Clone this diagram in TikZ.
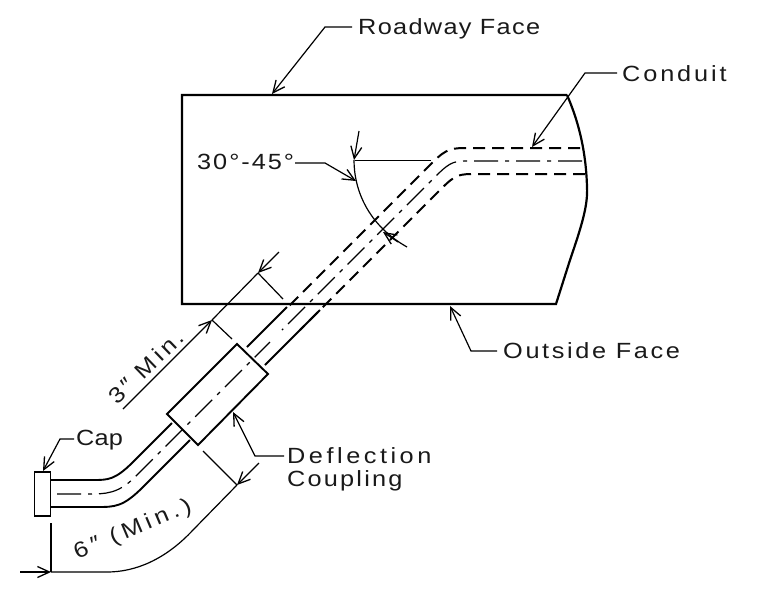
\documentclass[tikz,border=0pt]{standalone}
\usepackage{fontspec}
\usetikzlibrary{arrows.meta}
\setmainfont{Liberation Sans}
\newcommand{\lsp}[1]{\addfontfeature{FakeStretch=1.15,LetterSpace=#1}}
\tikzset{
  x=1pt,y=-1pt,
  >={Straight Barb[length=12pt,width=11pt,line width=1.3pt,sep=0pt]},
  thick line/.style={line width=2.2pt,line cap=butt},
  tube/.style={line width=1.9pt},
  dashtube/.style={line width=2pt,dash pattern=on 12pt off 7pt},
  centerl/.style={line width=1.2pt,dash pattern=on 24pt off 7pt on 4pt off 7pt},
  thin line/.style={line width=1.2pt},
  lead/.style={thin line,->},
  lbl/.style={inner sep=0pt,anchor=west,font=\fontsize{22}{24}\selectfont,text=black!90},
}
\begin{document}
\begin{tikzpicture}
\useasboundingbox (0,0) rectangle (765,600);
% slab outline
\coordinate (tl) at (182,95); \coordinate (bl) at (182,304);
\coordinate (br) at (556,304); \coordinate (tr) at (567,95);
\draw[thick line,line join=miter] (tr) -- (tl) -- (bl) -- (br) -- (570,260) .. controls (582,225) and (588,205) .. (587,187) .. controls (586,150) and (578,120) .. (tr);
% conduit dashed inside slab
\draw[dashtube] (580,148) -- (470,148) .. controls (452,148) and (447,148) .. (433,162) -- (287,308);
\draw[dashtube] (585,174) -- (478,174) .. controls (458,174) and (456,174) .. (440,190) -- (300,330);
\draw[centerl] (582,161) -- (470,161) .. controls (455,161) and (451,161) .. (437,175) -- (282,330);
\draw[thin line] (355,160.5) -- (431,160.5);
% conduit solid outside
\draw[tube] (287,307) -- (247,347);
\draw[tube] (320,310) -- (265,365);
\draw[tube] (172,423) -- (133,462) .. controls (115,480) and (108,480) .. (93,480) -- (51,480);
\draw[tube] (190,440) -- (143,487) .. controls (123,507) and (115,507) .. (97,507) -- (51,507);
% coupling
\draw[tube,line join=miter] (237,344) -- (268,374) -- (198,445) -- (167,414) -- cycle;
\draw[centerl] (57,494) -- (88,494) .. controls (105,494) and (118,494) .. (135,477) -- (270,342);
% cap
\node[draw,line width=1.5pt,minimum width=16pt,minimum height=44pt,inner sep=0pt] (capbox) at (42.5,494) {};
% labels
\node[lbl] (road) at (358,28.5) {\lsp{6}Roadway Face};
\node[lbl] (cond) at (622,74) {\lsp{13}Conduit};
\node[lbl] (angle) at (197,162) {\lsp{9}30°-45°};
\node[lbl] (out) at (503,351) {\lsp{12}Outside Face};
\node[lbl] (cap) at (76,440) {\lsp{1}Cap};
\node[lbl] (defl) at (287,456) {\lsp{16}Deflection};
\node[lbl] (coup) at (287,481) {\lsp{10}Coupling};
\node[lbl,anchor=center,rotate=44] (three) at (146,367) {\lsp{16}3″ Min.};
\node[lbl,anchor=center,rotate=23] (six) at (133,530) {\lsp{20}6″ (Min.)};
% leaders
\draw[lead] (352,27) -- (325,27) -- (272,94);
\draw[lead] (617,73) -- (585,73) -- (532,147);
\draw[lead] (295,163) -- (325,163) -- (356,181);
\draw[lead] (497,351) -- (471,351) -- (450,306);
\draw[lead] (74,439) -- (60,439) -- (43,471);
\draw[lead] (284,456) -- (255,456) -- (233,412);
% angle arc
\coordinate (arcA) at (354,160); \coordinate (arcB) at (383,232);
\draw[thin line] (arcA) .. controls (354,190) and (368,225) .. (407,247);
\draw[lead] (359,131) -- (arcA);
\draw[thin line,<-] (arcB) -- (398,242);
% 3" dimension
\coordinate (d3a) at (258,273); \coordinate (d3b) at (212,320);
\draw[lead] (279,252) -- (d3a);
\draw[thin line] (d3a) -- (283,299);
\draw[thin line] (d3a) -- (d3b);
\draw[lead] (123,409) -- (d3b);
\draw[thin line] (d3b) -- (232,339);
% 6" dimension
\coordinate (d6a) at (237,485); \coordinate (d6b) at (51,572);
\draw[lead] (259,463) -- (d6a);
\draw[thin line] (d6a) -- (203,451);
\draw[thin line] (d6a) -- (193,530) .. controls (165,560) and (135,572) .. (107,572) -- (d6b);
\draw[thin line] (51,523) -- (d6b);
\draw[lead] (20,572) -- (d6b);
\end{tikzpicture}
\end{document}
